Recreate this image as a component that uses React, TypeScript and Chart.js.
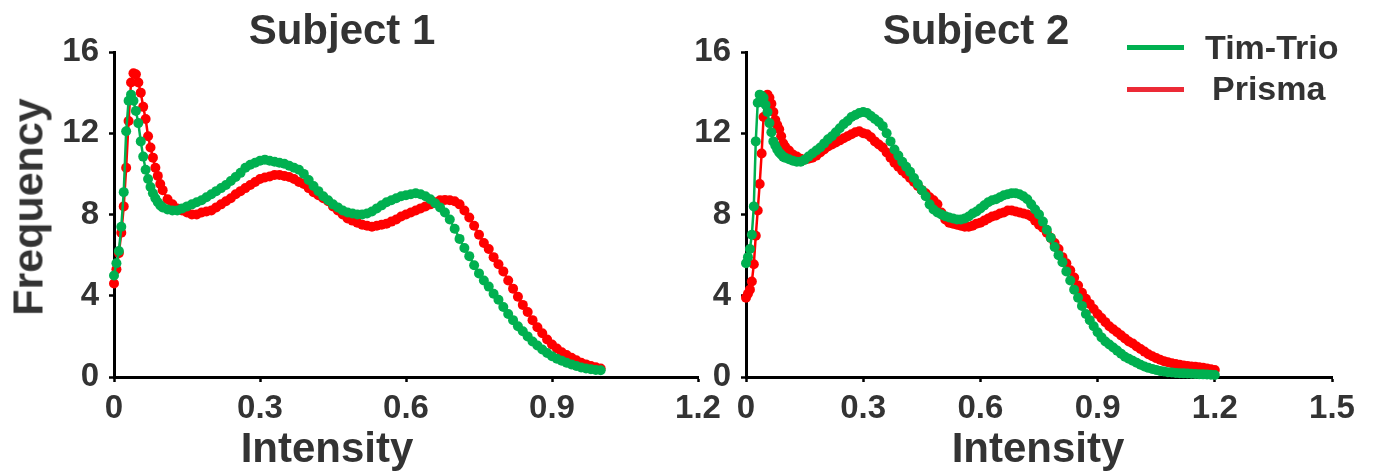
import React, { useEffect, useRef } from "react";
import { Chart, registerables } from "chart.js";

Chart.register(...registerables);

// ---------- data ----------
const intensity = [
  0, 0.005, 0.01, 0.015, 0.02, 0.025, 0.03, 0.035, 0.04, 0.045, 0.05, 0.055, 0.06, 0.065, 0.07, 0.075, 0.08, 0.085, 0.09, 0.095, 0.1,
  0.11, 0.12, 0.13, 0.14, 0.15, 0.16, 0.17, 0.18, 0.19, 0.2,
  0.21, 0.22, 0.23, 0.24, 0.25, 0.26, 0.27, 0.28, 0.29, 0.3,
  0.31, 0.32, 0.33, 0.34, 0.35, 0.36, 0.37, 0.38, 0.39, 0.4,
  0.41, 0.42, 0.43, 0.44, 0.45, 0.46, 0.47, 0.48, 0.49, 0.5,
  0.51, 0.52, 0.53, 0.54, 0.55, 0.56, 0.57, 0.58, 0.59, 0.6,
  0.61, 0.62, 0.63, 0.64, 0.65, 0.66, 0.67, 0.68, 0.69, 0.7,
  0.71, 0.72, 0.73, 0.74, 0.75, 0.76, 0.77, 0.78, 0.79, 0.8,
  0.81, 0.82, 0.83, 0.84, 0.85, 0.86, 0.87, 0.88, 0.89, 0.9,
  0.91, 0.92, 0.93, 0.94, 0.95, 0.96, 0.97, 0.98, 0.99, 1.0,
  1.01, 1.02, 1.03, 1.04, 1.05, 1.06, 1.07, 1.08, 1.09, 1.1,
  1.11, 1.12, 1.13, 1.14, 1.15, 1.16, 1.17, 1.18, 1.19, 1.2,
];

// Subject 1 (intensity 0 .. 1.0)
const s1TimTrio = [
  5.0, 5.6, 6.2, 7.4, 9.1, 12.1, 13.6, 13.9, 13.6, 13.1, 12.5, 11.6, 10.85, 10.2, 9.75, 9.35, 9.05, 8.8, 8.6, 8.45, 8.35,
  8.25, 8.2, 8.2, 8.3, 8.4, 8.5, 8.6, 8.7, 8.85, 9.0,
  9.15, 9.3, 9.45, 9.65, 9.85, 10.05, 10.3, 10.45, 10.55, 10.65,
  10.7, 10.65, 10.6, 10.55, 10.5, 10.4, 10.3, 10.2, 10.0, 9.7,
  9.4, 9.15, 8.9, 8.7, 8.5, 8.35, 8.2, 8.1, 8.05, 8.0,
  8.0, 8.05, 8.15, 8.3, 8.45, 8.6, 8.7, 8.8, 8.9, 8.95,
  9.0, 9.05, 9.0, 8.9, 8.75, 8.55, 8.35, 8.1, 7.75, 7.3,
  6.8, 6.35, 5.95, 5.5, 5.1, 4.75, 4.45, 4.1, 3.8, 3.45,
  3.1, 2.8, 2.5, 2.25, 2.0, 1.75, 1.55, 1.35, 1.18, 1.02,
  0.9, 0.8, 0.7, 0.62, 0.54, 0.47, 0.42, 0.38, 0.35, 0.33,
];
const s1Prisma = [
  4.6, 5.3, 6.1, 7.1, 8.4, 10.3, 12.6, 14.5, 14.95, 14.9, 14.5, 14.0, 13.3, 12.7, 11.85, 11.3, 10.8, 10.3, 9.9, 9.5, 9.2,
  8.75, 8.5, 8.3, 8.2, 8.1, 8.0, 8.0, 8.1, 8.15, 8.2,
  8.35, 8.5, 8.65, 8.8, 9.0, 9.15, 9.3, 9.45, 9.6, 9.75,
  9.82, 9.87, 9.95, 9.95, 9.9, 9.85, 9.75, 9.6, 9.5, 9.3,
  9.1, 8.95, 8.8, 8.65, 8.4, 8.2, 8.0, 7.8, 7.7, 7.6,
  7.5, 7.45, 7.4, 7.45, 7.5, 7.55, 7.65, 7.75, 7.9, 8.0,
  8.1, 8.2, 8.3, 8.4, 8.5, 8.6, 8.7, 8.72, 8.7, 8.65,
  8.5, 8.2, 7.85, 7.45, 7.0, 6.6, 6.3, 5.9, 5.55, 5.2,
  4.75, 4.35, 3.95, 3.55, 3.2, 2.8, 2.45, 2.15, 1.85, 1.6,
  1.4, 1.22, 1.08, 0.95, 0.82, 0.7, 0.62, 0.54, 0.48, 0.42,
];

// Subject 2 (intensity 0 .. 1.2)
const s2TimTrio = [
  5.6, 5.9, 6.3, 7.0, 8.4, 11.6, 13.5, 13.9, 13.85, 13.75, 13.4, 13.05, 12.5, 12.05, 11.6, 11.4, 11.2, 11.05, 10.95, 10.85, 10.8,
  10.72, 10.65, 10.6, 10.6, 10.7, 10.85, 11.0, 11.15, 11.3, 11.5,
  11.7, 11.85, 12.05, 12.25, 12.45, 12.6, 12.8, 12.9, 13.0, 13.05,
  13.0, 12.85, 12.7, 12.55, 12.35, 12.0, 11.6, 11.2, 10.9, 10.6,
  10.35, 10.1, 9.8, 9.5, 9.2, 8.9, 8.5, 8.25, 8.1, 8.0,
  7.92, 7.85, 7.8, 7.75, 7.75, 7.8, 7.9, 8.05, 8.15, 8.3,
  8.45, 8.6, 8.7, 8.75, 8.85, 8.95, 9.0, 9.05, 9.05, 9.0,
  8.9, 8.75, 8.5, 8.25, 8.0, 7.65, 7.25, 6.85, 6.4, 6.0,
  5.65, 5.2, 4.75, 4.3, 3.9, 3.5, 3.1, 2.8, 2.5, 2.2,
  1.95, 1.75, 1.6, 1.45, 1.3, 1.15, 1.0, 0.9, 0.8, 0.7,
  0.6, 0.52, 0.45, 0.4, 0.35, 0.3, 0.27, 0.24, 0.22, 0.2,
  0.19, 0.18, 0.17, 0.16, 0.15, 0.14, 0.13, 0.12, 0.11, 0.1,
];
const s2Prisma = [
  3.9, 4.1, 4.3, 4.7, 5.55, 6.95, 8.2, 9.5, 11.0, 12.8, 13.8, 13.9, 13.75, 13.45, 13.05, 12.65, 12.4, 12.2, 11.85, 11.5, 11.35,
  11.15, 10.95, 10.85, 10.75, 10.7, 10.75, 10.8, 10.9, 11.05, 11.2,
  11.35, 11.45, 11.55, 11.65, 11.75, 11.85, 11.95, 12.05, 12.1, 12.0,
  11.95, 11.8, 11.6, 11.45, 11.3, 11.05, 10.8, 10.55, 10.35, 10.15,
  10.0, 9.8, 9.6, 9.4, 9.2, 9.05, 8.85, 8.7, 8.5, 8.1,
  7.75, 7.6, 7.55, 7.5, 7.45, 7.4, 7.4, 7.45, 7.55, 7.6,
  7.7, 7.8, 7.9, 7.95, 8.05, 8.1, 8.2, 8.2, 8.15, 8.1,
  8.05, 8.0, 7.9, 7.7, 7.5, 7.35, 7.1, 6.85, 6.6, 6.3,
  5.9, 5.6, 5.25, 4.9, 4.5, 4.15, 3.85, 3.6, 3.35, 3.1,
  2.9, 2.7, 2.5, 2.35, 2.2, 2.05, 1.9, 1.75, 1.65, 1.5,
  1.38, 1.25, 1.12, 1.02, 0.93, 0.85, 0.78, 0.73, 0.68, 0.64,
  0.6, 0.57, 0.54, 0.52, 0.5, 0.48, 0.45, 0.42, 0.38, 0.34,
];

const s1XTicks = [0, 0.3, 0.6, 0.9, 1.2];
const s2XTicks = [0, 0.3, 0.6, 0.9, 1.2, 1.5];
const yTicks = [0, 4, 8, 12, 16];

const seriesNames = ["Tim-Trio", "Prisma"];

// ---------- styles ----------
const FONT = "'Liberation Sans', Arial, Helvetica, sans-serif";
const TEXT = "#333333";
const GREEN = "#00b050";
const RED = "#ff0000";
const LEGEND_RED = "#ec2a36";

function fmt(v: number): string {
  return v === 0 ? "0" : v.toFixed(1);
}

type PanelProps = {
  left: number;
  width: number;
  padRight: number;
  yWidth: number;
  xMax: number;
  xTicks: number[];
  timTrio: number[];
  prisma: number[];
};

function Panel(p: PanelProps) {
  const ref = useRef<HTMLCanvasElement | null>(null);
  useEffect(() => {
    if (!ref.current) return;
    const pts = (arr: number[]) => arr.map((y, i) => ({ x: intensity[i], y }));
    const ds = (label: string, arr: number[], color: string) => ({
      label,
      data: pts(arr),
      borderColor: color,
      backgroundColor: color,
      pointBackgroundColor: color,
      pointBorderColor: color,
      pointRadius: 5,
      pointBorderWidth: 0,
      borderWidth: 2.5,
      tension: 0,
      clip: false as any,
    });
    const chart = new Chart(ref.current, {
      type: "line",
      data: {
        datasets: [ds(seriesNames[0], p.timTrio, GREEN), ds(seriesNames[1], p.prisma, RED)],
      },
      options: {
        responsive: false,
        animation: false,
        events: [],
        layout: { padding: { left: 0, right: p.padRight, top: 52, bottom: 0 } },
        plugins: {
          legend: { display: false },
          title: { display: false },
          tooltip: { enabled: false },
        },
        scales: {
          x: {
            type: "linear",
            min: 0,
            max: p.xMax,
            afterBuildTicks: (s: any) => {
              s.ticks = p.xTicks.map((v) => ({ value: v }));
            },
            afterFit: (s: any) => {
              s.height = 99;
            },
            grid: {
              display: true,
              drawOnChartArea: false,
              drawTicks: true,
              tickLength: 5,
              tickColor: "#000",
              tickWidth: 2.5,
            },
            border: { display: true, color: "#000", width: 3 },
            ticks: {
              padding: 7,
              color: TEXT,
              autoSkip: false,
              maxRotation: 0,
              font: { family: FONT, size: 33, weight: "bold" },
              callback: (v: any) => fmt(Number(v)),
            },
          },
          y: {
            type: "linear",
            min: 0,
            max: 16,
            afterBuildTicks: (s: any) => {
              s.ticks = yTicks.map((v) => ({ value: v }));
            },
            afterFit: (s: any) => {
              s.width = p.yWidth;
            },
            grid: {
              display: true,
              drawOnChartArea: false,
              drawTicks: true,
              tickLength: 5,
              tickColor: "#000",
              tickWidth: 2.5,
            },
            border: { display: true, color: "#000", width: 3 },
            ticks: {
              padding: 10,
              color: TEXT,
              font: { family: FONT, size: 33, weight: "bold" },
              callback: (v: any) => String(v),
            },
          },
        },
      } as any,
    });
    return () => chart.destroy();
  }, []);
  return (
    <canvas
      ref={ref}
      width={p.width}
      height={476}
      style={{ position: "absolute", left: p.left, top: 0, width: p.width, height: 476 }}
    />
  );
}

const textBase: React.CSSProperties = {
  position: "absolute",
  fontFamily: FONT,
  fontWeight: "bold",
  color: TEXT,
  whiteSpace: "nowrap",
};

export default function App() {
  useEffect(() => {
    document.body.style.margin = "0";
  }, []);
  return (
    <div style={{ position: "relative", width: 1374, height: 476, background: "#fff", overflow: "hidden" }}>
      <Panel left={0} width={735} padRight={37} yWidth={114} xMax={1.2} xTicks={s1XTicks} timTrio={s1TimTrio} prisma={s1Prisma} />
      <Panel left={660} width={714} padRight={42} yWidth={86} xMax={1.5} xTicks={s2XTicks} timTrio={s2TimTrio} prisma={s2Prisma} />

      <div style={{ ...textBase, left: 342, top: 9, transform: "translateX(-50%)", fontSize: 42, lineHeight: "42px" }}>Subject 1</div>
      <div style={{ ...textBase, left: 976, top: 9, transform: "translateX(-50%)", fontSize: 42, lineHeight: "42px" }}>Subject 2</div>

      <div style={{ ...textBase, left: 28, top: 207, transform: "translate(-50%, -50%) rotate(-90deg)", fontSize: 43, lineHeight: "43px" }}>Frequency</div>

      <div style={{ ...textBase, left: 327, top: 427, transform: "translateX(-50%)", fontSize: 42, lineHeight: "42px" }}>Intensity</div>
      <div style={{ ...textBase, left: 1038, top: 427, transform: "translateX(-50%)", fontSize: 42, lineHeight: "42px" }}>Intensity</div>

      <div style={{ position: "absolute", left: 1127, top: 45, width: 57, height: 5, background: GREEN }} />
      <div style={{ ...textBase, left: 1205, top: 30, fontSize: 34, lineHeight: "34px" }}>{seriesNames[0]}</div>
      <div style={{ position: "absolute", left: 1127, top: 87, width: 57, height: 5, background: LEGEND_RED }} />
      <div style={{ ...textBase, left: 1212, top: 71, fontSize: 34, lineHeight: "34px" }}>{seriesNames[1]}</div>
    </div>
  );
}
